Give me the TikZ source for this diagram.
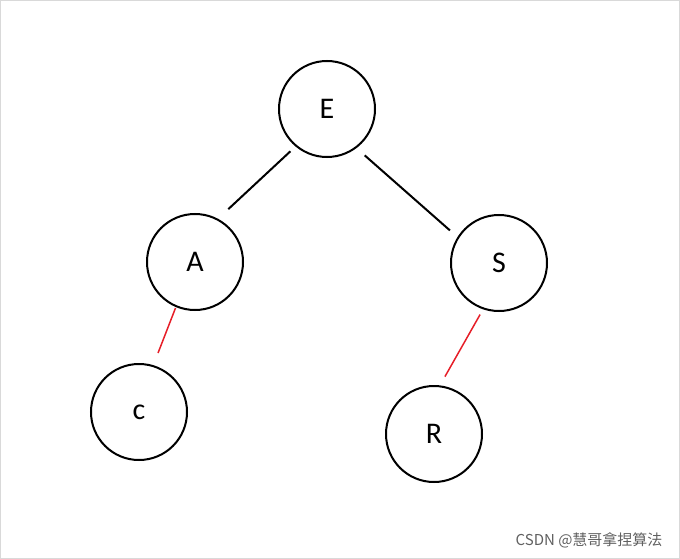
\documentclass[tikz,border=0pt]{standalone}
\usepackage{fontspec}
\setmainfont{Carlito}
\newfontfamily\cjk{Noto Sans CJK SC}
\begin{document}
\begin{tikzpicture}[x=1pt,y=-1pt,
  vert/.style={circle,draw,line width=2pt,minimum size=96pt,inner sep=0pt,font=\fontsize{30}{30}\selectfont},
  edge/.style={line width=2pt},
  redge/.style={line width=1.5pt,draw={rgb,255:red,230;green,30;blue,40}}]
\useasboundingbox (0,0) rectangle (680,559);
\draw[gray!30] (0.5,0.5) rectangle (679.5,558.5);
\node[vert] (E) at (327,109) {E};
\node[vert] (A) at (195,262) {A};
\node[vert] (S) at (499,263) {S};
\node[vert] (c) at (139,412) {c};
\node[vert] (R) at (434,434) {R};
\draw[edge,shorten <=7pt,shorten >=14pt] (E.230) -- (A.62);
\draw[edge,shorten <=11pt,shorten >=10pt] (E.-53) -- (S.148);
\draw[redge,shorten <=1pt,shorten >=13pt] (A.-113) -- (c.73);
\draw[redge,shorten <=6pt,shorten >=10pt] (S.-109) -- (R.83);
\node[font=\cjk\fontsize{15}{15}\selectfont,text=gray!75!black,anchor=east] (w) at (666,540) {CSDN @慧哥拿捏算法};
\end{tikzpicture}
\end{document}
